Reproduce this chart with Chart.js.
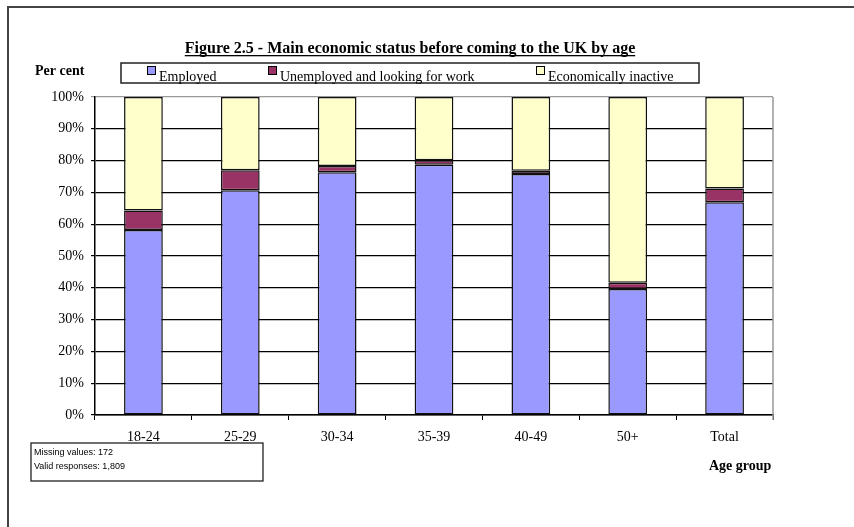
<!DOCTYPE html>
<html>
<head>
<meta charset="utf-8">
<title>Main economic status before coming to the UK by age</title>
<script src="https://cdn.jsdelivr.net/npm/chart.js@4"></script>
<style>
  html, body { margin: 0; padding: 0; background: #fff; }
  #chart { display: block; }
</style>
</head>
<body>
<canvas id="chart" width="854" height="527"></canvas>
<script>
// Age groups along the x axis
const ageGroups = ["18-24", "25-29", "30-34", "35-39", "40-49", "50+", "Total"];

// Per cent in each status, stacked to 100
const employed = [58.2, 70.7, 76.3, 78.7, 75.8, 39.6, 66.9];
const unemployed = [6.1, 6.3, 2.0, 1.4, 1.0, 2.0, 4.3];
const inactive = [35.7, 23.0, 21.7, 19.9, 23.2, 58.4, 28.8];

const yTicks = [0, 10, 20, 30, 40, 50, 60, 70, 80, 90, 100];

const seriesNames = ["Employed", "Unemployed and looking for work", "Economically inactive"];
const seriesColors = ["#9999ff", "#993366", "#ffffcc"];

const serif = "'Liberation Serif', 'Times New Roman', serif";
const sans = "'Liberation Sans', Arial, sans-serif";

// Title, legend box, frame and notes drawn straight onto the canvas
const decorations = {
  id: "decorations",
  afterDraw(chart) {
    const c = chart.ctx;
    const area = chart.chartArea;
    c.save();

    // outer frame (top and left only)
    c.strokeStyle = "#444";
    c.lineWidth = 2;
    c.beginPath();
    c.moveTo(854, 7);
    c.lineTo(8, 7);
    c.lineTo(8, 527);
    c.stroke();

    // grey right edge of the plot area
    c.strokeStyle = "#999";
    c.lineWidth = 1.5;
    c.beginPath();
    c.moveTo(area.right, area.top);
    c.lineTo(area.right, area.bottom + 5);
    c.stroke();

    // title, underlined
    const title = "Figure 2.5 - Main economic status before coming to the UK by age";
    c.fillStyle = "#000";
    c.font = "bold 16px " + serif;
    c.textAlign = "center";
    c.textBaseline = "alphabetic";
    c.fillText(title, 410, 53);
    const tw = c.measureText(title).width;
    c.fillRect(410 - tw / 2, 55, tw, 1.3);

    // y axis caption
    c.font = "bold 14px " + serif;
    c.textAlign = "left";
    c.fillText("Per cent", 35, 75);

    // x axis caption
    c.fillText("Age group", 709, 470);

    // legend box
    c.strokeStyle = "#222";
    c.lineWidth = 1.5;
    c.strokeRect(121, 63, 578, 20);
    const markX = [147, 268, 536];
    c.font = "14px " + serif;
    seriesNames.forEach((name, i) => {
      c.fillStyle = seriesColors[i];
      c.fillRect(markX[i], 66, 8, 8);
      c.strokeStyle = "#000";
      c.lineWidth = 1;
      c.strokeRect(markX[i] + 0.5, 66.5, 8, 8);
      c.fillStyle = "#000";
      c.fillText(name, markX[i] + 12, 81);
    });

    // note box
    c.fillStyle = "#fff";
    c.fillRect(31, 443, 232, 38);
    c.strokeStyle = "#222";
    c.lineWidth = 1.3;
    c.strokeRect(31, 443, 232, 38);
    c.fillStyle = "#000";
    c.font = "9px " + sans;
    c.fillText("Missing values: 172", 34, 455);
    c.fillText("Valid responses: 1,809", 34, 469);

    c.restore();
  },
};

const ctx = document.getElementById("chart").getContext("2d");
new Chart(ctx, {
  type: "bar",
  data: {
    labels: ageGroups,
    datasets: [employed, unemployed, inactive].map((values, i) => ({
      label: seriesNames[i],
      data: values,
      backgroundColor: seriesColors[i],
      borderColor: "#111",
      borderWidth: 1.5,
      borderSkipped: false,
      barPercentage: 0.4,
      categoryPercentage: 1,
    })),
  },
  options: {
    responsive: false,
    animation: false,
    layout: { padding: { top: 97, right: 81, left: 0, bottom: 0 } },
    plugins: {
      legend: { display: false },
      title: { display: false },
      tooltip: { enabled: false },
    },
    scales: {
      x: {
        stacked: true,
        afterFit: (scale) => { scale.height = 112; },
        grid: {
          offset: true,
          drawOnChartArea: false,
          drawTicks: true,
          tickLength: 5,
          color: "#000",
        },
        border: { color: "#000", width: 1.5 },
        ticks: {
          color: "#000",
          padding: 9,
          font: { family: serif, size: 14 },
        },
      },
      y: {
        stacked: true,
        min: 0,
        max: 100,
        afterFit: (scale) => { scale.width = 95; },
        afterBuildTicks: (scale) => {
          scale.ticks = yTicks.map((v) => ({ value: v }));
        },
        grid: {
          color: (g) => (g.tick && g.tick.value === 100 ? "#999" : "#000"),
          lineWidth: 1.2,
          tickLength: 4,
        },
        border: { color: "#000", width: 1.5 },
        ticks: {
          color: "#000",
          padding: 7,
          font: { family: serif, size: 14 },
          callback: (v) => v + "%",
        },
      },
    },
  },
  plugins: [decorations],
});
</script>
</body>
</html>
